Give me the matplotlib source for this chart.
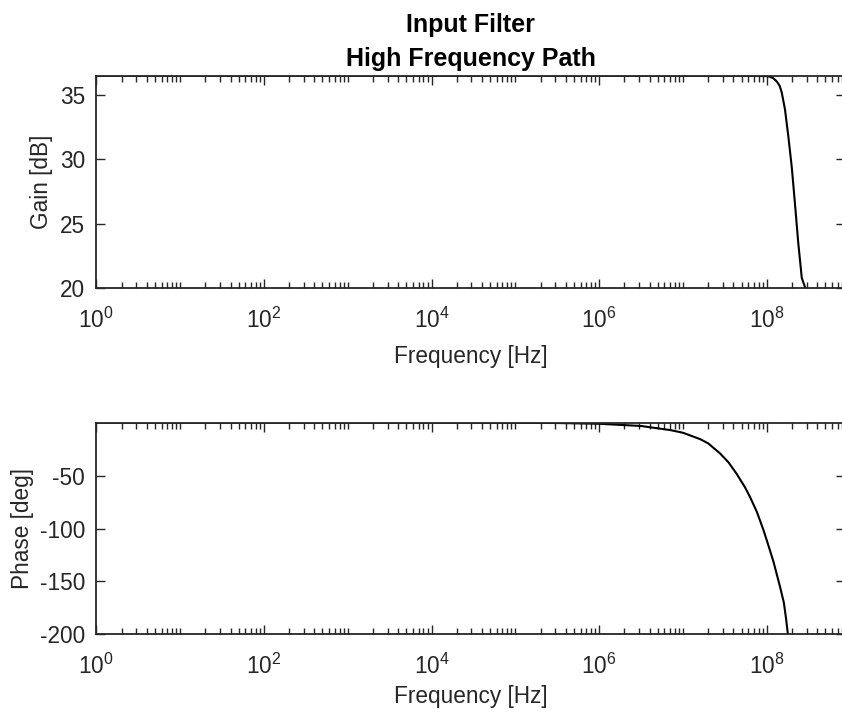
import numpy as np
import matplotlib

matplotlib.use("Agg")
import matplotlib.pyplot as plt
from matplotlib.ticker import LogLocator, NullFormatter

plt.rcParams["font.family"] = ["Liberation Sans", "DejaVu Sans"]
plt.rcParams["mathtext.fontset"] = "custom"
plt.rcParams["mathtext.rm"] = "Liberation Sans"
plt.rcParams["mathtext.it"] = "Liberation Sans:italic"
plt.rcParams["mathtext.bf"] = "Liberation Sans:bold"
plt.rcParams["axes.unicode_minus"] = False

# values (frequency in Hz)
gain_freq = [1e0, 1e4, 1e7, 3.16e7, 6.3e7, 1.0e8, 1.09e8, 1.2e8, 1.32e8, 1.43e8,
             1.51e8, 1.65e8, 1.81e8, 1.99e8, 2.17e8, 2.38e8, 2.62e8, 2.86e8, 3.1e8]
gain_db = [36.5, 36.5, 36.5, 36.49, 36.48, 36.47, 36.42, 36.3, 36.05, 35.7,
           35.2, 33.9, 31.8, 29.4, 26.6, 23.5, 20.8, 20.1, 18.3]

phase_freq = [1e0, 1e4, 1e5, 3.16e5, 1e6, 3.16e6, 7.1e6, 1e7, 1.6e7, 2.0e7,
              2.77e7, 3.5e7, 4.39e7, 5.5e7, 6.3e7, 7.6e7, 9.1e7, 1.0e8, 1.2e8,
              1.44e8, 1.6e8, 1.7e8, 1.82e8]
phase_deg = [0.0, -0.01, -0.1, -0.3, -1.0, -3.1, -7.0, -9.5, -15.5, -19.5,
             -29.0, -37.5, -48.5, -61.0, -70.0, -84.0, -101.0, -111.0, -131.0,
             -155.0, -170.0, -185.0, -205.0]

x_ticks = [1e0, 1e2, 1e4, 1e6, 1e8]
gain_ticks = [20, 25, 30, 35]
phase_ticks = [-200, -150, -100, -50]

FS = 16.3
AX_COLOR = "#262626"


def style_axis(ax, ticks, xlabel_y):
    ax.set_xscale("log")
    ax.set_xlim(1, 10 ** 8.934)
    ax.set_xticks(x_ticks)
    ax.xaxis.set_minor_locator(LogLocator(base=10, subs=np.arange(1, 10), numticks=100))
    ax.xaxis.set_minor_formatter(NullFormatter())
    ax.set_yticks(ticks)
    ax.tick_params(which="both", direction="in", top=True, right=True,
                   colors=AX_COLOR, labelcolor=AX_COLOR, width=1.0)
    ax.tick_params(which="major", length=6.5, labelsize=FS)
    ax.tick_params(which="minor", length=4.2)
    ax.tick_params(axis="x", which="major", pad=14)
    ax.tick_params(axis="y", which="major", pad=8)
    for sp in ax.spines.values():
        sp.set_color(AX_COLOR)
        sp.set_linewidth(1.3)
    ax.set_xlabel("Frequency [Hz]", fontsize=FS, color=AX_COLOR)
    ax.xaxis.set_label_coords(0.5, xlabel_y)


fig = plt.figure(figsize=(8.42, 7.17), dpi=100)
W, H = 842.0, 717.0
left, right = 96.3, 845.0

ax1 = fig.add_axes([left / W, 1 - 288.3 / H, (right - left) / W, (288.3 - 75.7) / H])
ax1.plot(gain_freq, gain_db, color="black", lw=1.5)
ax1.set_ylim(20, 36.5)
style_axis(ax1, gain_ticks, -(345 - 288.3) / (288.3 - 75.7))
ax1.set_ylabel("Gain [dB]", fontsize=FS, color=AX_COLOR)
ax1.yaxis.set_label_coords((53 - left) / (right - left), 0.5)
ax1.set_title("Input Filter\nHigh Frequency Path", fontsize=18, fontweight="bold",
              color="black", linespacing=1.52, pad=7)

ax2 = fig.add_axes([left / W, 1 - 634.3 / H, (right - left) / W, (634.3 - 422.7) / H])
ax2.plot(phase_freq, phase_deg, color="black", lw=1.5)
ax2.set_ylim(-200, 0)
style_axis(ax2, phase_ticks, -(685 - 634.3) / (634.3 - 422.7))
ax2.set_ylabel("Phase [deg]", fontsize=FS, color=AX_COLOR)
ax2.yaxis.set_label_coords((34 - left) / (right - left), 0.5)

fig.savefig("out.png", dpi=100, facecolor="white")
